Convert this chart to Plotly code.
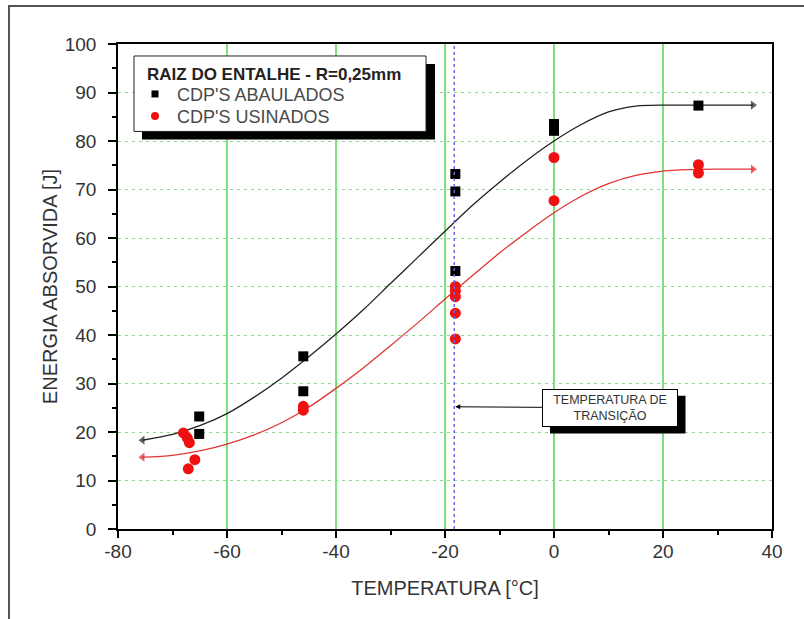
import plotly.graph_objects as go

# ---- data ----
abaulados_x = [-65.1, -65.1, -46.0, -46.0, -18.1, -18.1, -18.1, 0.0, 0.0, 26.5]
abaulados_y = [23.2, 19.6, 35.6, 28.4, 73.2, 69.6, 53.2, 83.5, 82.1, 87.3]

usinados_x = [-68.0, -67.3, -66.9, -65.9, -67.1, -46.0, -46.0, -18.1, -18.1, -18.1, -18.1, -18.1, 0.0, 0.0, 26.5, 26.5]
usinados_y = [19.8, 18.8, 17.8, 14.3, 12.4, 24.5, 25.3, 50.0, 49.0, 47.9, 44.5, 39.2, 76.6, 67.7, 75.1, 73.4]

fit_x = [-75.5, -70, -65, -60, -55, -50, -45, -40, -35, -30, -25, -20, -15, -10, -5, 0, 5, 10, 15, 20, 25, 30, 36.5]
fit_abaulados_y = [18.3, 19.5, 21.3, 23.8, 27.2, 31.1, 35.5, 40.2, 45.2, 50.6, 56.0, 61.4, 66.7, 71.5, 76.0, 80.0, 83.4, 86.0, 87.2, 87.4, 87.4, 87.4, 87.4]
fit_usinados_y = [14.8, 15.2, 16.1, 17.5, 19.4, 21.9, 25.1, 29.0, 33.2, 37.8, 42.5, 47.4, 52.2, 56.9, 61.2, 65.2, 68.6, 71.2, 72.9, 73.8, 74.1, 74.2, 74.2]

transition_t = -18.3
x_ticks = [-80, -60, -40, -20, 0, 20, 40]
x_tick_labels = ["-80", "-60", "-40", "-20", "0", "20", "40"]
y_ticks = [0, 10, 20, 30, 40, 50, 60, 70, 80, 90, 100]

legend_title = "RAIZ DO ENTALHE - R=0,25mm"
series_names = ["CDP'S ABAULADOS", "CDP'S USINADOS"]
series_colors = ["black", "#ee1111"]

FONT = "Liberation Sans, Arial, sans-serif"
TXT = "#333333"

# pixel -> paper helpers (plot area 118..772 x 44..529.5)
L, R, T, B = 118, 772, 44, 529.5
def px(v):
    return (v - L) / (R - L)
def py(v):
    return (B - v) / (B - T)

n = len(fit_x)
end_sym = ["triangle-left"] + ["circle"] * (n - 2) + ["triangle-right"]
end_size = [8] + [0] * (n - 2) + [8]

fig = go.Figure()
fig.add_trace(go.Scatter(x=fit_x, y=fit_abaulados_y, mode="lines+markers",
                         line=dict(color="#222222", width=1.3, shape="spline", smoothing=0.8),
                         marker=dict(symbol=end_sym, size=end_size, color="#222222", line=dict(width=0)),
                         showlegend=False, hoverinfo="skip"))
fig.add_trace(go.Scatter(x=fit_x, y=fit_usinados_y, mode="lines+markers",
                         line=dict(color="#e03535", width=1.3, shape="spline", smoothing=0.8),
                         marker=dict(symbol=end_sym, size=end_size, color="#e02020", line=dict(width=0)),
                         showlegend=False, hoverinfo="skip"))
fig.add_trace(go.Scatter(x=abaulados_x, y=abaulados_y, mode="markers", name=series_names[0],
                         marker=dict(symbol="square", size=10, color=series_colors[0]), showlegend=False))
fig.add_trace(go.Scatter(x=usinados_x, y=usinados_y, mode="markers", name=series_names[1],
                         marker=dict(symbol="circle", size=11, color=series_colors[1]), showlegend=False))

# transition line
fig.add_shape(type="line", xref="x", yref="y", x0=transition_t, x1=transition_t, y0=0, y1=100,
              line=dict(color="#6a6ae0", width=1.5, dash="dot"), layer="above")

# legend box with shadow (drawn manually)
fig.add_shape(type="rect", xref="paper", yref="paper", x0=px(142), x1=px(435), y0=py(139.5), y1=py(64),
              fillcolor="black", line=dict(width=0), layer="above")
fig.add_shape(type="rect", xref="paper", yref="paper", x0=px(134), x1=px(426), y0=py(131.5), y1=py(56),
              fillcolor="white", line=dict(color="#222222", width=1), layer="above")
fig.add_shape(type="rect", xref="paper", yref="paper", x0=px(151.5), x1=px(158.5), y0=py(97.5), y1=py(90.5),
              fillcolor=series_colors[0], line=dict(width=0), layer="above")
fig.add_shape(type="circle", xref="paper", yref="paper", x0=px(151), x1=px(159), y0=py(120), y1=py(112),
              fillcolor=series_colors[1], line=dict(width=0), layer="above")
fig.add_annotation(xref="paper", yref="paper", x=px(145), y=py(75), xanchor="left", yanchor="middle",
                   text="<b>" + legend_title + "</b>", showarrow=False,
                   font=dict(family=FONT, size=17, color="#222222"))
fig.add_annotation(xref="paper", yref="paper", x=px(175), y=py(95), xanchor="left", yanchor="middle",
                   text=series_names[0], showarrow=False, font=dict(family=FONT, size=18, color="#4a4a4a"))
fig.add_annotation(xref="paper", yref="paper", x=px(175), y=py(117), xanchor="left", yanchor="middle",
                   text=series_names[1], showarrow=False, font=dict(family=FONT, size=18, color="#4a4a4a"))

# transition box shadow
fig.add_shape(type="rect", xref="paper", yref="paper", x0=px(550), x1=px(685.5), y0=py(434), y1=py(396),
              fillcolor="black", line=dict(width=0), layer="above")

# outer frame
fig.add_shape(type="rect", xref="paper", yref="paper", x0=px(9), x1=px(812), y0=py(640), y1=py(6),
              line=dict(color="#555555", width=2), fillcolor="rgba(0,0,0,0)", layer="above")

fig.add_annotation(x=transition_t, y=25.2, xref="x", yref="y",
                   ax=10.2, ay=25.0, axref="x", ayref="y",
                   text="TEMPERATURA DE<br>TRANSIÇÃO", showarrow=True,
                   arrowhead=2, arrowsize=1, arrowwidth=1, arrowcolor="black", standoff=1,
                   font=dict(family=FONT, size=12.5, color=TXT),
                   bgcolor="white", bordercolor="black", borderwidth=1, borderpad=1,
                   width=132, height=34, align="center")

fig.update_layout(
    width=804, height=619,
    margin=dict(l=L, r=804 - R, t=T, b=619 - B),
    paper_bgcolor="white", plot_bgcolor="white",
    font=dict(family=FONT, size=19, color=TXT),
    showlegend=False,
    xaxis=dict(range=[-80, 40], tickvals=x_ticks, ticktext=x_tick_labels, ticks="outside", ticklen=7,
               tickwidth=1.5, tickcolor="black", showline=True, linecolor="black", linewidth=1.5,
               mirror=True, showgrid=True, gridcolor="#7fe07f", gridwidth=1.5, zeroline=False,
               minor=dict(dtick=10, ticks="outside", ticklen=4, tickcolor="black", showgrid=False),
               title=dict(text="TEMPERATURA [°C]", standoff=20, font=dict(size=20)),
               tickfont=dict(size=19), ticklabelstandoff=-3),
    yaxis=dict(range=[0, 100], tickvals=y_ticks, ticks="outside", ticklen=8, tickwidth=1.5,
               tickcolor="black", showline=True, linecolor="black", linewidth=1.5, mirror=True,
               showgrid=True, gridcolor="#8fd68f", gridwidth=1.2, griddash="3px,4px", zeroline=False,
               minor=dict(dtick=5, ticks="outside", ticklen=4, tickcolor="black", showgrid=False),
               title=dict(text="ENERGIA ABSORVIDA [J]", standoff=2, font=dict(size=20)),
               tickfont=dict(size=19), ticklabelstandoff=8),
)

fig.write_html("out.html")
